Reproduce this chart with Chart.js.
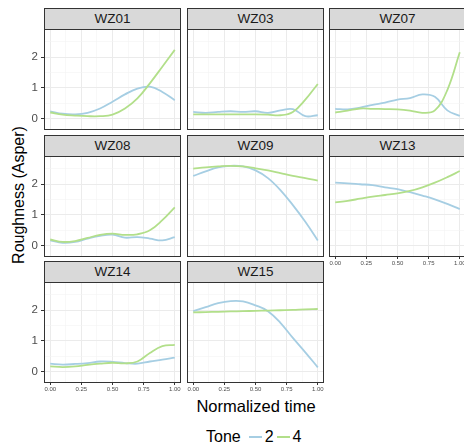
<!DOCTYPE html>
<html>
<head>
<meta charset="utf-8">
<script src="https://cdn.jsdelivr.net/npm/chart.js@4/dist/chart.umd.min.js"></script>
<style>
body { margin: 0; width: 464px; height: 445px; overflow: hidden; background: #fff; position: relative;
  font-family: "Liberation Sans", Arial, sans-serif; }
canvas { position: absolute; }
.strip { position: absolute; box-sizing: border-box; border: 1px solid #333; background: #d9d9d9;
  color: #1a1a1a; font-size: 13.5px; text-align: center; line-height: 20px; }
.ytitle { position: absolute; left: 19px; top: 195px; transform: translate(-50%, -50%) rotate(-90deg);
  font-size: 16px; white-space: nowrap; color: #000; }
.xtitle { position: absolute; left: 256px; top: 406px; transform: translate(-50%, -50%);
  font-size: 16.5px; white-space: nowrap; color: #000; }
.legend { position: absolute; left: 206px; top: 427px; font-size: 16px; color: #000; white-space: nowrap; }
.legend span { display: inline-block; vertical-align: middle; }
.key { width: 13px; height: 2px; margin: 0 3px; }
</style>
</head>
<body>
<div class="ytitle">Roughness (Asper)</div>
<div class="xtitle">Normalized time</div>
<div class="legend"><span>Tone</span><span class="key" style="background:#a6cee3;margin-left:8px"></span><span>2</span><span class="key" style="background:#b2df8a"></span><span>4</span></div>
<script>
// normalized time samples
const time = [0, 0.1, 0.2, 0.3, 0.4, 0.5, 0.6, 0.7, 0.8, 0.9, 1.0];

const panelNames = ['WZ01', 'WZ03', 'WZ07', 'WZ08', 'WZ09', 'WZ13', 'WZ14', 'WZ15'];

// tone 2 (blue) / tone 4 (green) smoothed roughness
const wz01Tone2 = [0.24, 0.16, 0.14, 0.19, 0.33, 0.55, 0.79, 0.98, 1.04, 0.87, 0.60];
const wz01Tone4 = [0.20, 0.13, 0.10, 0.08, 0.08, 0.13, 0.33, 0.66, 1.15, 1.69, 2.24];
const wz03Tone2 = [0.22, 0.19, 0.22, 0.24, 0.22, 0.24, 0.19, 0.27, 0.31, 0.08, 0.11];
const wz03Tone4 = [0.14, 0.14, 0.14, 0.14, 0.14, 0.14, 0.13, 0.11, 0.22, 0.62, 1.13];
const wz07Tone2 = [0.32, 0.30, 0.36, 0.45, 0.52, 0.62, 0.67, 0.79, 0.71, 0.27, 0.09];
const wz07Tone4 = [0.20, 0.26, 0.33, 0.32, 0.31, 0.30, 0.26, 0.19, 0.27, 0.93, 2.16];
const wz08Tone2 = [0.17, 0.09, 0.12, 0.23, 0.32, 0.36, 0.26, 0.28, 0.23, 0.17, 0.28];
const wz08Tone4 = [0.20, 0.12, 0.15, 0.25, 0.35, 0.39, 0.35, 0.37, 0.50, 0.83, 1.25];
const wz09Tone2 = [2.27, 2.42, 2.55, 2.60, 2.58, 2.45, 2.20, 1.81, 1.32, 0.78, 0.17];
const wz09Tone4 = [2.51, 2.55, 2.58, 2.60, 2.58, 2.52, 2.45, 2.36, 2.27, 2.20, 2.12];
const wz13Tone2 = [2.05, 2.03, 2.00, 1.97, 1.90, 1.84, 1.74, 1.63, 1.51, 1.36, 1.19];
const wz13Tone4 = [1.41, 1.46, 1.53, 1.60, 1.65, 1.70, 1.78, 1.90, 2.05, 2.23, 2.43];
const wz14Tone2 = [0.26, 0.23, 0.25, 0.28, 0.33, 0.32, 0.28, 0.26, 0.33, 0.39, 0.46];
const wz14Tone4 = [0.17, 0.15, 0.17, 0.22, 0.26, 0.29, 0.27, 0.33, 0.61, 0.83, 0.87];
const wz15Tone2 = [1.97, 2.10, 2.23, 2.30, 2.29, 2.16, 1.97, 1.59, 1.10, 0.63, 0.14];
const wz15Tone4 = [1.93, 1.94, 1.95, 1.96, 1.97, 1.98, 1.99, 2.00, 2.01, 2.03, 2.04];

const tone2 = [wz01Tone2, wz03Tone2, wz07Tone2, wz08Tone2, wz09Tone2, wz13Tone2, wz14Tone2, wz15Tone2];
const tone4 = [wz01Tone4, wz03Tone4, wz07Tone4, wz08Tone4, wz09Tone4, wz13Tone4, wz14Tone4, wz15Tone4];

const COLS = [44, 187, 329];
const ROWS = [29, 156, 282];
const PW = 137, PH = 101, STRIP = 22;

const onStep = (v, s) => Math.abs(v / s - Math.round(v / s)) < 1e-6;

const panelBorder = {
  id: 'panelBorder',
  afterDraw(chart) {
    const a = chart.chartArea, c = chart.ctx;
    c.save();
    c.strokeStyle = '#333';
    c.lineWidth = 1;
    c.strokeRect(a.left + 0.5, a.top + 0.5, a.right - a.left - 1, a.bottom - a.top - 1);
    c.restore();
  }
};

function makePanel(i) {
  const col = i % 3, row = Math.floor(i / 3);
  const showY = col === 0;
  const showX = i >= 5;
  const yW = showY ? 44 : 0, xH = showX ? 16 : 0;

  const strip = document.createElement('div');
  strip.className = 'strip';
  strip.textContent = panelNames[i];
  strip.style.left = COLS[col] + 'px';
  strip.style.top = (ROWS[row] - STRIP + 1) + 'px';
  strip.style.width = PW + 'px';
  strip.style.height = STRIP + 'px';
  document.body.appendChild(strip);

  const canvas = document.createElement('canvas');
  canvas.width = PW + yW;
  canvas.height = PH + xH;
  canvas.style.left = (COLS[col] - yW) + 'px';
  canvas.style.top = ROWS[row] + 'px';
  document.body.appendChild(canvas);

  const gridColor = (step) => (c) => onStep(c.tick.value, step) ? '#ebebeb' : '#f4f4f4';
  const gridWidth = (step) => (c) => onStep(c.tick.value, step) ? 1 : 0.6;
  const tickColor = (step) => (c) => onStep(c.tick.value, step) ? '#333' : 'rgba(0,0,0,0)';

  new Chart(canvas.getContext('2d'), {
    type: 'line',
    data: {
      datasets: [
        {
          label: '4',
          data: time.map((t, k) => ({ x: t, y: tone4[i][k] })),
          borderColor: '#b2df8a',
          borderWidth: 1.8,
          pointRadius: 0,
          tension: 0.4,
          order: 0
        },
        {
          label: '2',
          data: time.map((t, k) => ({ x: t, y: tone2[i][k] })),
          borderColor: '#a6cee3',
          borderWidth: 1.8,
          pointRadius: 0,
          tension: 0.4,
          order: 1
        }
      ]
    },
    options: {
      responsive: false,
      animation: false,
      devicePixelRatio: 1,
      events: [],
      layout: { padding: 0 },
      plugins: { legend: { display: false }, tooltip: { enabled: false } },
      scales: {
        x: {
          type: 'linear',
          min: -0.05,
          max: 1.05,
          border: { display: false },
          grid: { color: gridColor(0.25), lineWidth: gridWidth(0.25), drawTicks: showX,
            tickLength: 2, tickColor: tickColor(0.25), tickWidth: 1 },
          ticks: {
            display: showX, stepSize: 0.125, includeBounds: false, autoSkip: false,
            maxRotation: 0, padding: 1, color: '#4d4d4d',
            font: { family: 'Liberation Sans', size: 6 },
            callback: (v) => onStep(v, 0.25) ? v.toFixed(2) : ''
          },
          afterFit: (s) => { s.height = xH; s.paddingLeft = 0; s.paddingRight = 0; }
        },
        y: {
          min: -0.37,
          max: 2.92,
          border: { display: false },
          grid: { color: gridColor(1), lineWidth: gridWidth(1), drawTicks: showY,
            tickLength: 3, tickColor: tickColor(1), tickWidth: 1 },
          ticks: {
            display: showY, stepSize: 0.5, includeBounds: false, autoSkip: false,
            padding: 3, color: '#4d4d4d',
            font: { family: 'Liberation Sans', size: 11.5 },
            callback: (v) => onStep(v, 1) ? String(v) : ''
          },
          afterFit: (s) => { s.width = yW; s.paddingTop = 0; s.paddingBottom = 0; }
        }
      }
    },
    plugins: [panelBorder]
  });
}

for (let i = 0; i < panelNames.length; i++) makePanel(i);
</script>
</body>
</html>
